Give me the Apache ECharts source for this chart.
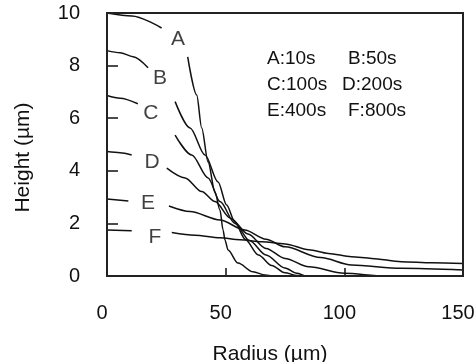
<!DOCTYPE html>
<html>
<head>
<meta charset="utf-8">
<script src="https://cdn.jsdelivr.net/npm/echarts@6/dist/echarts.min.js"></script>
<style>
    html, body { margin: 0; padding: 0; background: #fff; }
    #chart { width: 475px; height: 362px; }
</style>
</head>
<body>
<div id="chart"></div>
<script>
// 各时刻的剖面 [半径, 高度]，'-' 处断开(给字母留位置)
var curveA = [[0, 10], [10.5, 9.89], [23, 9.43], [28, '-'], [34, 8.33], [37.8, 6.88], [39.9, 5.63], [42.6, 4.33], [45.5, 3.19],
    [47.6, 2.51], [48.9, 1.75], [49.7, 1.37], [51, 0.99], [55.2, 0.49], [61.5, 0.16], [66.6, 0.04], [70, 0], [150, 0]];
var curveB = [[0, 8.57], [5.5, 8.49], [11, 8.34], [17.3, 7.92], [22, '-'], [28.7, 6.63], [35, 5.63], [41.3, 4.6], [46.8, 3.57],
    [50.4, 2.7], [53.9, 2.05], [58.2, 1.4], [63.8, 0.8], [69.4, 0.4], [75, 0.12], [80, 0.02], [85, 0], [150, 0]];
var curveC = [[0, 6.86], [5.5, 6.76], [13, 6.55], [20, '-'], [28.7, 5.36], [35.7, 4.6], [42.6, 3.73], [47.6, 2.83], [53.9, 2.0],
    [60, 1.35], [67, 0.8], [75, 0.3], [80, 0.1], [84, 0], [150, 0]];
var curveD = [[0, 4.73], [5.5, 4.69], [10.4, 4.6], [18, '-'], [25.2, 4.1], [32.9, 3.73], [39.9, 3.21], [45.5, 2.83], [52, 2.2],
    [59.4, 1.6], [67, 1.05], [75, 0.67], [85, 0.35], [100, 0.1], [117, 0], [150, 0]];
var curveE = [[0, 2.93], [9, 2.85], [18, '-'], [26.1, 2.66], [35, 2.45], [47.6, 2.13], [58, 1.75], [67, 1.4], [75, 1.11],
    [90, 0.7], [103, 0.42], [124, 0.29], [150, 0.23]];
var curveF = [[0, 1.75], [10.4, 1.72], [19, '-'], [27.3, 1.65], [37, 1.55], [47.6, 1.45], [56, 1.38], [65.2, 1.3], [75, 1.22],
    [85, 1.0], [93.3, 0.86], [103, 0.73], [111.5, 0.67], [124, 0.54], [137, 0.5], [150, 0.48]];

var curveNames = ['A', 'B', 'C', 'D', 'E', 'F'];
var curves = [curveA, curveB, curveC, curveD, curveE, curveF];
// 曲线上字母的位置
var labelX = [29.9, 22.3, 18.5, 19, 17.3, 20.2];
var labelY = [9.0, 7.53, 6.2, 4.33, 2.78, 1.48];
// 右上角说明
var noteRows = [['A:10s', 'B:50s'], ['C:100s', 'D:200s'], ['E:400s', 'F:800s']];

var font = 'Liberation Sans, Arial, sans-serif';
var gridBox = { left: 107, right: 12, top: 13, bottom: 86 };

var series = [];
for (var i = 0; i < curves.length; i++) {
    series.push({
        name: curveNames[i],
        type: 'line',
        data: curves[i],
        showSymbol: false,
        smooth: 0.3,
        smoothMonotone: 'x',
        connectNulls: false,
        clip: false,
        lineStyle: { color: '#111', width: 1.5 },
        z: 3
    });
}

var labelData = [];
for (var i = 0; i < curveNames.length; i++) {
    labelData.push({ name: curveNames[i], value: [labelX[i], labelY[i]] });
}
series.push({
    type: 'scatter',
    data: labelData,
    symbolSize: 0,
    silent: true,
    label: {
        show: true,
        position: 'inside',
        formatter: '{b}',
        color: '#111',
        fontFamily: font,
        fontSize: 21
    }
});

var graphic = [];
var colX = [[267, 348], [267, 342], [267, 348]];
var rowY = [59, 85, 111];
for (var r = 0; r < noteRows.length; r++) {
    for (var c = 0; c < 2; c++) {
        graphic.push({
            type: 'text',
            x: colX[r][c],
            y: rowY[r],
            style: {
                text: noteRows[r][c],
                fill: '#111',
                font: '19px ' + font,
                verticalAlign: 'middle'
            }
        });
    }
}
// 外框(上、右)
var W = 475, H = 362;
graphic.push({
    type: 'rect',
    z: 100,
    silent: true,
    shape: {
        x: gridBox.left,
        y: gridBox.top,
        width: W - gridBox.left - gridBox.right,
        height: H - gridBox.top - gridBox.bottom
    },
    style: { fill: 'none', stroke: '#222', lineWidth: 2 }
});

var option = {
    animation: false,
    grid: {
        left: gridBox.left, right: gridBox.right, top: gridBox.top, bottom: gridBox.bottom,
        outerBoundsMode: 'none'
    },
    graphic: graphic,
    xAxis: {
        type: 'value',
        min: 0,
        max: 150,
        interval: 50,
        name: 'Radius (\u00b5m)',
        nameLocation: 'middle',
        nameGap: 68,
        nameTextStyle: { color: '#111', fontFamily: font, fontSize: 21, padding: [0, 30, 0, 0] },
        axisLine: { onZero: false, lineStyle: { color: '#111', width: 1.5 } },
        axisTick: { inside: true, length: 8, lineStyle: { color: '#111', width: 1.5 } },
        axisLabel: { color: '#111', fontFamily: font, fontSize: 20, margin: 27, padding: [0, 10, 0, 0] },
        splitLine: { show: false }
    },
    yAxis: {
        type: 'value',
        min: 0,
        max: 10,
        interval: 2,
        name: 'Height (\u00b5m)',
        nameLocation: 'middle',
        nameGap: 73,
        nameTextStyle: { color: '#111', fontFamily: font, fontSize: 21, padding: [0, 26, 0, 0] },
        axisLine: { onZero: false, lineStyle: { color: '#111', width: 1.5 } },
        axisTick: { inside: true, length: 11, lineStyle: { color: '#111', width: 1.5 } },
        axisLabel: { color: '#111', fontFamily: font, fontSize: 20, margin: 27 },
        splitLine: { show: false }
    },
    series: series
};

var mychart = echarts.init(document.getElementById('chart'));
mychart.setOption(option);
</script>
</body>
</html>
